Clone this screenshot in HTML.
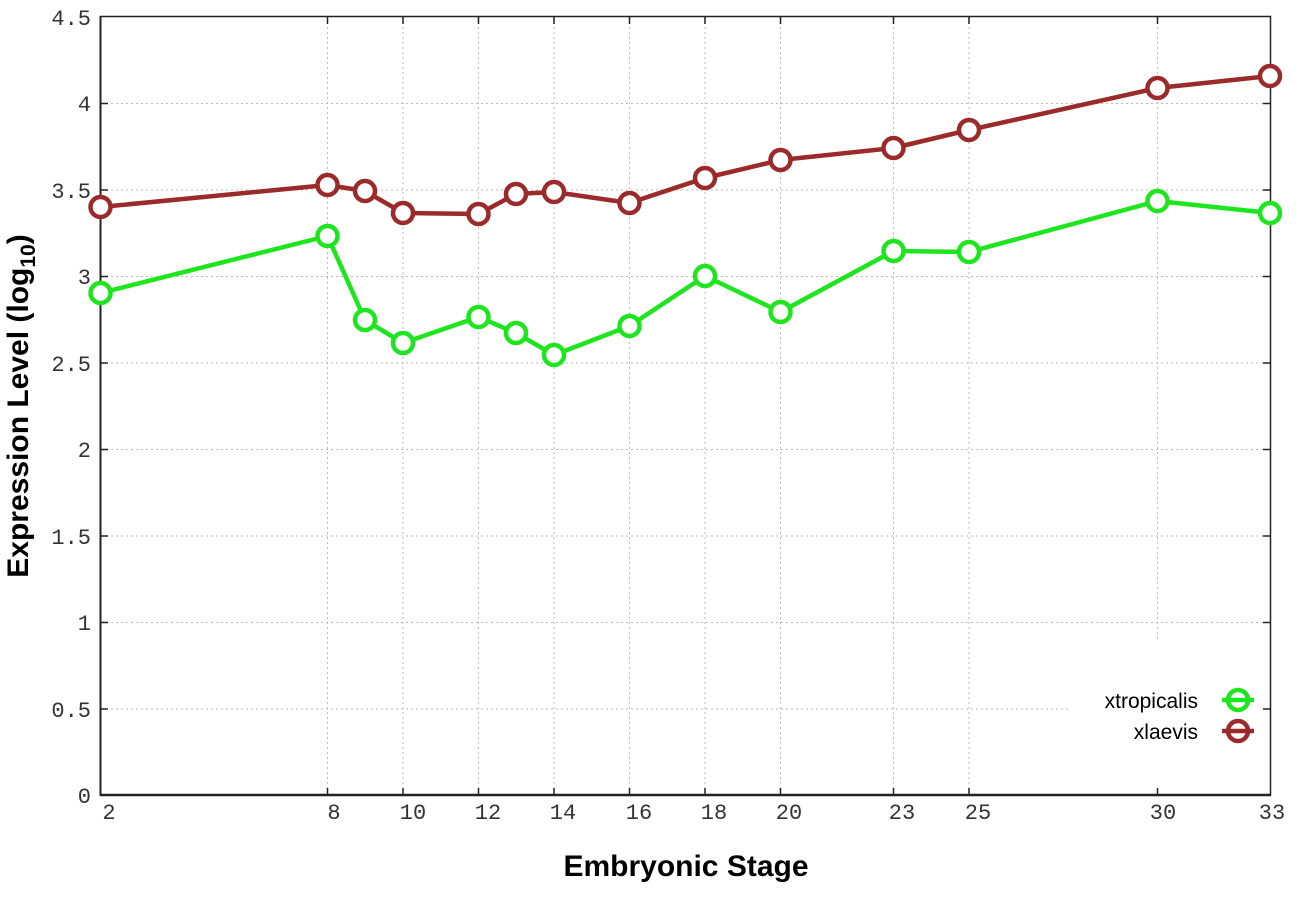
<!DOCTYPE html>
<html><head><style>body{margin:0;background:#fff}</style></head><body>
<svg width="1296" height="907" xmlns="http://www.w3.org/2000/svg">
<rect width="1296" height="907" fill="#fff"/>
<g stroke="#bbb" stroke-width="1" stroke-dasharray="2,3">
<line x1="101" x2="1270" y1="103.5" y2="103.5"/>
<line x1="101" x2="1270" y1="190" y2="190"/>
<line x1="101" x2="1270" y1="276.5" y2="276.5"/>
<line x1="101" x2="1270" y1="363" y2="363"/>
<line x1="101" x2="1270" y1="449.5" y2="449.5"/>
<line x1="101" x2="1270" y1="536" y2="536"/>
<line x1="101" x2="1270" y1="622.5" y2="622.5"/>
<line x1="101" x2="1070" y1="709" y2="709"/>
<line x1="327.5" x2="327.5" y1="17" y2="795"/>
<line x1="403" x2="403" y1="17" y2="795"/>
<line x1="478.5" x2="478.5" y1="17" y2="795"/>
<line x1="554" x2="554" y1="17" y2="795"/>
<line x1="629.5" x2="629.5" y1="17" y2="795"/>
<line x1="705" x2="705" y1="17" y2="795"/>
<line x1="780.5" x2="780.5" y1="17" y2="795"/>
<line x1="893.5" x2="893.5" y1="17" y2="795"/>
<line x1="969" x2="969" y1="17" y2="795"/>
<line x1="1157.5" x2="1157.5" y1="17" y2="642"/>
</g>
<rect x="100.5" y="16.5" width="1170" height="778.5" fill="none" stroke="#222" stroke-width="1.5"/>
<line x1="100" x2="1271" y1="795" y2="795" stroke="#222" stroke-width="2.5"/>
<line x1="100.5" x2="100.5" y1="16" y2="796" stroke="#222" stroke-width="2"/>
<g stroke="#222" stroke-width="1.5">
<path d="M101 103.5h7M101 190h7M101 276.5h7M101 363h7M101 449.5h7M101 536h7M101 622.5h7M101 709h7"/>
<path d="M1270 103.5h-7M1270 190h-7M1270 276.5h-7M1270 363h-7M1270 449.5h-7M1270 536h-7M1270 622.5h-7M1270 709h-7"/>
<path d="M327.5 795v-7M403 795v-7M478.5 795v-7M554 795v-7M629.5 795v-7M705 795v-7M780.5 795v-7M893.5 795v-7M969 795v-7M1157.5 795v-7"/>
<path d="M327.5 17v7M403 17v7M478.5 17v7M554 17v7M629.5 17v7M705 17v7M780.5 17v7M893.5 17v7M969 17v7M1157.5 17v7"/>
</g>
<g font-family="Liberation Mono, monospace" font-size="22" fill="#333" text-anchor="end">
<text x="91" y="25">4.5</text><text x="91" y="111">4</text><text x="91" y="198">3.5</text>
<text x="91" y="284">3</text><text x="91" y="371">2.5</text><text x="91" y="457">2</text>
<text x="91" y="544">1.5</text><text x="91" y="630">1</text><text x="91" y="717">0.5</text><text x="91" y="803">0</text>
</g>
<g font-family="Liberation Mono, monospace" font-size="22" fill="#333" text-anchor="middle">
<text x="109" y="819">2</text><text x="334" y="819">8</text><text x="413" y="819">10</text>
<text x="488" y="819">12</text><text x="563" y="819">14</text><text x="639" y="819">16</text>
<text x="714" y="819">18</text><text x="789" y="819">20</text><text x="902" y="819">23</text>
<text x="978" y="819">25</text><text x="1163" y="819">30</text><text x="1272" y="819">33</text>
</g>
<text x="686" y="876" font-family="Liberation Sans, sans-serif" font-weight="bold" font-size="30" text-anchor="middle" fill="#000">Embryonic Stage</text>
<text transform="translate(28,406) rotate(-90)" font-family="Liberation Sans, sans-serif" font-weight="bold" font-size="30" text-anchor="middle" fill="#000">Expression Level (log<tspan font-size="21" dy="7">10</tspan><tspan dy="-7">)</tspan></text>
<g fill="none" stroke="#1ee61e" stroke-width="4.5" stroke-linejoin="round">
<polyline points="100.5,293 327.5,236 365,320 403,343 478.5,317 516,333 554,355 629.5,326 705,276 780.5,312 893.5,251 969,252 1157.5,201 1270,213"/>
<g fill="#fff"><circle cx="100.5" cy="293" r="10"/><circle cx="327.5" cy="236" r="10"/><circle cx="365" cy="320" r="10"/><circle cx="403" cy="343" r="10"/><circle cx="478.5" cy="317" r="10"/><circle cx="516" cy="333" r="10"/><circle cx="554" cy="355" r="10"/><circle cx="629.5" cy="326" r="10"/><circle cx="705" cy="276" r="10"/><circle cx="780.5" cy="312" r="10"/><circle cx="893.5" cy="251" r="10"/><circle cx="969" cy="252" r="10"/><circle cx="1157.5" cy="201" r="10"/><circle cx="1270" cy="213" r="10"/></g>
</g>
<g fill="none" stroke="#9b2a2a" stroke-width="4.5" stroke-linejoin="round">
<polyline points="100.5,207 327.5,185 365,191 403,213 478.5,214 516,194 554,192 629.5,203 705,178 780.5,160 893.5,148 969,130 1157.5,88 1270,76"/>
<g fill="#fff"><circle cx="100.5" cy="207" r="10"/><circle cx="327.5" cy="185" r="10"/><circle cx="365" cy="191" r="10"/><circle cx="403" cy="213" r="10"/><circle cx="478.5" cy="214" r="10"/><circle cx="516" cy="194" r="10"/><circle cx="554" cy="192" r="10"/><circle cx="629.5" cy="203" r="10"/><circle cx="705" cy="178" r="10"/><circle cx="780.5" cy="160" r="10"/><circle cx="893.5" cy="148" r="10"/><circle cx="969" cy="130" r="10"/><circle cx="1157.5" cy="88" r="10"/><circle cx="1270" cy="76" r="10"/></g>
</g>
<g font-family="Liberation Sans, sans-serif" font-size="21" fill="#000" text-anchor="end">
<text x="1198" y="708">xtropicalis</text><text x="1198" y="739">xlaevis</text>
</g>
<g stroke-width="4.5" fill="#fff">
<line x1="1222" x2="1254" y1="700" y2="700" stroke="#1ee61e"/><circle cx="1238" cy="700" r="10" stroke="#1ee61e" fill="none"/>
<line x1="1222" x2="1254" y1="731" y2="731" stroke="#9b2a2a"/><circle cx="1238" cy="731" r="10" stroke="#9b2a2a" fill="none"/>
</g>
</svg>
</body></html>
